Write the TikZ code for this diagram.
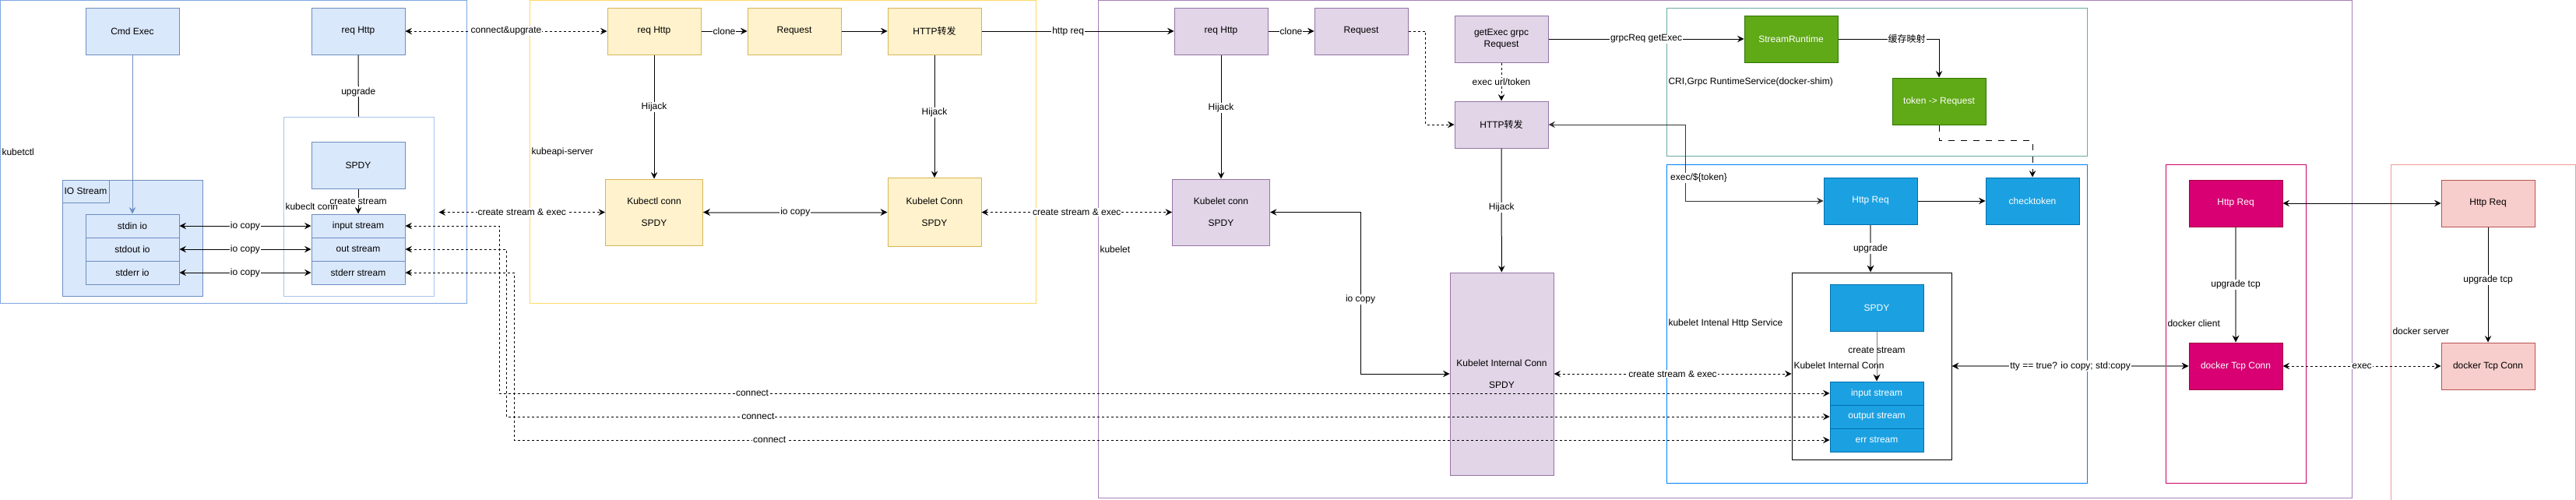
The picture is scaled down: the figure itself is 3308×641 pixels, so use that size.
\documentclass[tikz,border=0pt]{standalone}
\usepackage{fontspec}
\setmainfont{Liberation Sans}
\newfontfamily\cjk{Noto Sans CJK SC}
\usetikzlibrary{arrows.meta,calc}
\definecolor{bfill}{HTML}{DAE8FC}
\definecolor{bline}{HTML}{6C8EBF}
\definecolor{yfill}{HTML}{FFF2CC}
\definecolor{yline}{HTML}{D6B656}
\definecolor{pfill}{HTML}{E1D5E7}
\definecolor{pline}{HTML}{9673A6}
\definecolor{gfill}{HTML}{60A917}
\definecolor{gline}{HTML}{2D7600}
\definecolor{dbfill}{HTML}{1BA1E2}
\definecolor{dbline}{HTML}{006EAF}
\definecolor{mfill}{HTML}{D80073}
\definecolor{mline}{HTML}{A50040}
\definecolor{pkfill}{HTML}{F8CECC}
\definecolor{pkline}{HTML}{B85450}
\definecolor{ckubectl}{HTML}{7EA6E0}
\definecolor{ckconn}{HTML}{A9C4EB}
\definecolor{capi}{HTML}{FFD966}
\definecolor{ckubelet}{HTML}{A680B8}
\definecolor{ccri}{HTML}{67AB9F}
\definecolor{cihs}{HTML}{007FFF}
\definecolor{cdc}{HTML}{CC0066}
\definecolor{cds}{HTML}{F19C99}
\definecolor{gline2}{HTML}{808080}
\tikzset{tipb/.tip={Stealth[length=9pt,width=9pt,inset=3pt,line width=0pt,black]}}
\begin{document}
\begin{tikzpicture}[x=1pt,y=-1pt,
  font=\fontsize{12}{15}\selectfont,
  line width=1pt,
  >={Stealth[length=8.5pt,width=8.5pt,inset=3pt,line width=0pt]},
  box/.style={draw, rectangle, minimum width=120pt, minimum height=60pt, inner sep=2pt, align=center, line width=1pt},
  sbox/.style={box, minimum height=30pt},
  blue/.style={draw=bline, fill=bfill},
  yel/.style={draw=yline, fill=yfill},
  pur/.style={draw=pline, fill=pfill},
  grn/.style={draw=gline, fill=gfill, text=white},
  dblue/.style={draw=dbline, fill=dbfill, text=white},
  mag/.style={draw=mline, fill=mfill, text=white},
  pink/.style={draw=pkline, fill=pkfill},
  cont/.style={draw, rectangle, inner sep=0pt, line width=1pt},
  ctext/.style={anchor=west, inner sep=0pt},
  lbl/.style={fill=white, inner sep=1pt, text=black},
  dashthin/.style={dash pattern=on 3pt off 3pt},
  grayline/.style={draw=gline2, line width=1.5pt},
]
\useasboundingbox (0,0) rectangle (3308,641);

% ---------- containers ----------
\node[cont, draw=ckubectl, minimum width=599pt, minimum height=389pt] (kubectl) at (300,195) {};
\node[cont, draw=capi, minimum width=650pt, minimum height=389pt] (api) at (1005,195) {};
\node[cont, draw=ckubelet, minimum width=1610pt, minimum height=639pt] (kubelet) at (2215,320) {};
\node[cont, draw=ccri, minimum width=540pt, minimum height=190pt] (cri) at (2410,105) {};
\node[cont, draw=cihs, minimum width=540pt, minimum height=409pt] (ihs) at (2410,415.5) {};
\node[cont, draw=cdc, minimum width=180pt, minimum height=409pt] (dclient) at (2871,415.5) {};
\node[cont, draw=cds, minimum width=237pt, minimum height=432pt] (dserver) at (3188.5,427) {};
\node[cont, draw=ckconn, minimum width=193pt, minimum height=230pt] (kconnbox) at (460.5,265) {};
\node[cont, draw=black, minimum width=205pt, minimum height=240pt] (ibox) at (2403.5,470) {};
\node[cont, draw=bline, fill=bfill, minimum width=180pt, minimum height=149pt] (iostream) at (170,305.5) {};
\node[cont, draw=bline, fill=bfill, minimum width=60pt, minimum height=29pt, anchor=north west] (iotab) at (iostream.north west) {IO Stream};

\node[ctext] (tkubectl) at (2,195) {kubetctl};
\node[ctext] (tkconn) at (366,265) {kubeclt conn};
\node[ctext] (tapi) at (682,195) {kubeapi-server};
\node[ctext] (tkubelet) at (1412,320) {kubelet};
\node[ctext] (tcri) at (2142,105) {CRI,Grpc RuntimeService(docker-shim)};
\node[ctext] (tihs) at (2142,415) {kubelet Intenal Http Service};
\node[ctext] (tibox) at (2303,469) {Kubelet Internal Conn};
\node[ctext] (tdc) at (2783,415) {docker client};
\node[ctext] (tds) at (3072,425) {docker server};

% ---------- kubectl ----------
\node[box, blue] (cmdexec) at (170,40) {Cmd Exec};
\node[box, blue] (kreq) at (460,40) {req Http};
\node[box, blue] (kspdy) at (460,212) {SPDY};
\node[sbox, blue] (kin) at (460,290) {input stream};
\node[sbox, blue] (kout) at (460,320) {out stream};
\node[sbox, blue] (kerr) at (460,350) {stderr stream};
\node[sbox, blue] (stdin) at (170,290) {stdin io};
\node[sbox, blue] (stdout) at (170,320) {stdout io};
\node[sbox, blue] (stderr) at (170,350) {stderr io};

% ---------- kubeapi-server ----------
\node[box, yel] (areq) at (840,40) {req Http};
\node[box, yel] (areqst) at (1020,40) {Request};
\node[box, yel] (afwd) at (1200,40) {HTTP{\cjk 转发}};
\node[box, yel, minimum width=125pt, minimum height=85pt] (akconn) at (840,272.5) {Kubectl conn\\[13pt]SPDY};
\node[box, yel, minimum height=88pt] (alconn) at (1200,272.5) {Kubelet Conn\\[13pt]SPDY};

% ---------- kubelet ----------
\node[box, pur] (lreq) at (1568,40) {req Http};
\node[box, pur] (lreqst) at (1748,40) {Request};
\node[box, pur] (getexec) at (1928,50) {getExec grpc\\Request};
\node[box, pur] (lfwd) at (1928,160) {HTTP{\cjk 转发}};
\node[box, pur, minimum width=125pt, minimum height=85pt] (lkconn) at (1568,272.5) {Kubelet conn\\[13pt]SPDY};
\node[box, pur, minimum width=133pt, minimum height=260pt] (lintconn) at (1928.5,480) {Kubelet Internal Conn\\[13pt]SPDY};

\node[box, grn] (sruntime) at (2300,50) {StreamRuntime};
\node[box, grn] (tokreq) at (2490,130) {token -> Request};

\node[box, dblue] (httpreq) at (2402,258) {Http Req};
\node[box, dblue] (checktoken) at (2610,258) {checktoken};
\node[box, dblue] (ispdy) at (2410,395) {SPDY};
\node[sbox, dblue] (iin) at (2410,505) {input stream};
\node[sbox, dblue] (iout) at (2410,535) {output stream};
\node[sbox, dblue] (ierr) at (2410,565) {err stream};

% ---------- docker ----------
\node[box, mag] (dreq) at (2871,261) {Http Req};
\node[box, mag] (dtcp) at (2871,470) {docker Tcp Conn};
\node[box, pink] (sreq) at (3195,261) {Http Req};
\node[box, pink] (stcp) at (3195,470) {docker Tcp Conn};

% ---------- connectors ----------
\draw[->, draw=bline] (cmdexec) -- (stdin);
\draw (kreq.south) -- node[lbl, pos=0.6]{upgrade} (kconnbox.north);
\draw[->] (kspdy) -- node[lbl]{create stream} (kin);
\draw[<->] (stdin) -- node[lbl]{io copy} (kin);
\draw[<->] (stdout) -- node[lbl]{io copy} (kout);
\draw[<->] (stderr) -- node[lbl]{io copy} (kerr);

\draw[<->, dashthin] (kreq) -- node[lbl]{connect\&upgrate} (areq);
\draw[<->, dashthin] ($(kconnbox.east |- akconn.west)+(6,0)$) -- node[lbl]{create stream \& exec} (akconn.west);

\draw[<->, dashthin] (kin.east) -- ++(121,0) |- node[lbl, pos=0.595]{connect} (iin.west);
\draw[<->, dashthin] (kout.east) -- ++(130,0) |- node[lbl, pos=0.595]{connect} (iout.west);
\draw[<->, dashthin] (kerr.east) -- ++(140,0) |- node[lbl, pos=0.597]{connect} (ierr.west);

\draw[->] (areq) -- node[lbl]{clone} (areqst);
\draw[->] (areqst) -- (afwd);
\draw[->] (areq) -- node[lbl, pos=0.42]{Hijack} (akconn);
\draw[->] (afwd) -- node[lbl, pos=0.47]{Hijack} (alconn);
\draw[tipb-tipb, draw=gline2, line width=2pt] (akconn) -- node[lbl]{io copy} (alconn);
\draw[->] (afwd) -- node[lbl, pos=0.45]{http req} (lreq);
\draw[<->, dashthin] (alconn) -- node[lbl]{create stream \& exec} (lkconn);

\draw[->] (lreq) -- node[lbl]{clone} (lreqst);
\draw[->] (lreq) -- node[lbl, pos=0.43]{Hijack} (lkconn);
\draw[->, dashthin] (lreqst.east) -- ++(22,0) |- (lfwd.west);
\draw[->, dashthin] (getexec) -- node[lbl]{exec url/token} (lfwd);
\draw[->] (lfwd) -- node[lbl, pos=0.48]{Hijack} (lintconn);
\draw[<->] (lkconn.east) -- ++(116,0) |- node[lbl, pos=0.27]{io copy} (lintconn.west);
\draw[<->, dashthin] (lintconn.east) -- node[lbl]{create stream \& exec} (lintconn.east -| ibox.west);

\draw[->] (getexec) -- node[lbl]{grpcReq getExec} (sruntime);
\draw[->] (sruntime) -| node[lbl, pos=0.34]{\cjk 缓存映射} (tokreq);
\draw[->, dash pattern=on 8pt off 8pt] (tokreq.south) -- ++(0,20) -| (checktoken.north);
\draw[<->, draw=black!80] (lfwd.east) -- ++(176,0) |- node[lbl, pos=0.35, xshift=17pt]{exec/\$\{token\}} (httpreq.west);
\draw[->] (httpreq) -- (checktoken);
\draw[-tipb, grayline] (httpreq.south) -- node[lbl]{upgrade} (httpreq.south |- ibox.north);
\draw[-tipb, draw=gline2] (ispdy) -- node[pos=0.375, text=black, inner sep=0pt]{create stream} (iin);
\draw[tipb-tipb, grayline] (ibox.east) -- node[lbl]{tty == true? io copy; std:copy} (dtcp.west);

\draw[-tipb, grayline] (dreq) -- node[lbl]{upgrade tcp} (dtcp);
\draw[->] (sreq) -- node[lbl, pos=0.46]{upgrade tcp} (stcp);
\draw[<->] (dreq) -- (sreq);
\draw[<->, dashthin] (dtcp) -- node[lbl]{exec} (stcp);
\end{tikzpicture}
\end{document}
